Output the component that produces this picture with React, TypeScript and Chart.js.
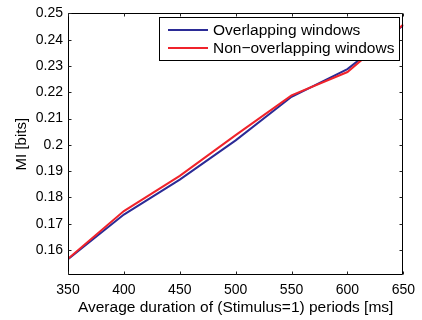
import React, { useEffect, useRef } from 'react';
import { Chart, registerables } from 'chart.js';

Chart.register(...registerables);

const X_VALUES = [350, 400, 450, 500, 550, 600, 650];
const OVERLAPPING = [0.1565, 0.1735, 0.1868, 0.2017, 0.2183, 0.2288, 0.2455];
const NON_OVERLAPPING = [0.1567, 0.1748, 0.1882, 0.2037, 0.2188, 0.2277, 0.2458];
const SERIES_NAMES = ['Overlapping windows', 'Non\u2212overlapping windows'];
const SERIES_COLORS = ['#2b2b96', '#f0232b'];
const X_TICKS = [350, 400, 450, 500, 550, 600, 650];
const Y_TICKS = [0.16, 0.17, 0.18, 0.19, 0.2, 0.21, 0.22, 0.23, 0.24, 0.25];
const Y_TICK_LABELS = ['0.16', '0.17', '0.18', '0.19', '0.2', '0.21', '0.22', '0.23', '0.24', '0.25'];
const X_TITLE = 'Average duration of (Stimulus=1) periods [ms]';
const Y_TITLE = 'MI [bits]';

const FONT = '"Liberation Sans", Arial, Helvetica, sans-serif';

const boxPlugin = {
  id: 'matlabBox',
  afterDatasetsDraw(chart: any) {
    const { ctx, chartArea: a, scales } = chart;
    const L = Math.round(a.left) + 0.5;
    const R = Math.round(a.right) - 0.5;
    const T = Math.round(a.top) + 0.5;
    const B = Math.round(a.bottom) - 0.5;
    ctx.save();
    ctx.strokeStyle = '#000';
    ctx.lineWidth = 1;
    ctx.beginPath();
    ctx.rect(L, T, R - L, B - T);
    ctx.stroke();
    const tl = 3;
    ctx.strokeStyle = '#222';
    ctx.beginPath();
    for (const t of scales.x.ticks) {
      const px = Math.round(scales.x.getPixelForValue(t.value)) + 0.5;
      ctx.moveTo(px, B);
      ctx.lineTo(px, B - tl);
      ctx.moveTo(px, T);
      ctx.lineTo(px, T + tl);
    }
    for (const t of scales.y.ticks) {
      const py = Math.round(scales.y.getPixelForValue(t.value)) + 0.5;
      ctx.moveTo(L, py);
      ctx.lineTo(L + tl, py);
      ctx.moveTo(R, py);
      ctx.lineTo(R - tl, py);
    }
    ctx.stroke();

    // legend
    const lx = 159.5, ly = 17.5, lw = 240, lh = 43;
    ctx.fillStyle = '#fff';
    ctx.fillRect(lx, ly, lw, lh);
    ctx.strokeStyle = '#000';
    ctx.strokeRect(lx, ly, lw, lh);
    ctx.font = '15.5px ' + FONT;
    ctx.textBaseline = 'middle';
    ctx.textAlign = 'left';
    const rows = [30, 48];
    SERIES_NAMES.forEach((name, i) => {
      ctx.strokeStyle = SERIES_COLORS[i];
      ctx.lineWidth = 2;
      ctx.beginPath();
      ctx.moveTo(168, rows[i]);
      ctx.lineTo(208, rows[i]);
      ctx.stroke();
      ctx.fillStyle = '#000';
      ctx.fillText(name, 213, rows[i] + 0.5);
    });
    ctx.restore();
  },
};

export default function App() {
  const ref = useRef<HTMLCanvasElement | null>(null);
  useEffect(() => {
    if (!ref.current) return;
    const chart = new Chart(ref.current, {
      type: 'line',
      data: {
        datasets: [
          {
            label: SERIES_NAMES[0],
            data: X_VALUES.map((x, i) => ({ x, y: OVERLAPPING[i] })),
            borderColor: SERIES_COLORS[0],
            borderWidth: 2,
            pointRadius: 0,
            tension: 0,
            fill: false,
            order: 1,
          },
          {
            label: SERIES_NAMES[1],
            data: X_VALUES.map((x, i) => ({ x, y: NON_OVERLAPPING[i] })),
            borderColor: SERIES_COLORS[1],
            borderWidth: 2,
            pointRadius: 0,
            tension: 0,
            fill: false,
            order: 0,
          },
        ],
      },
      options: {
        responsive: false,
        animation: false,
        devicePixelRatio: 1,
        layout: { padding: { left: 0, right: 15, top: 11, bottom: 0 } },
        plugins: { legend: { display: false }, tooltip: { enabled: false } },
        scales: {
          x: {
            type: 'linear',
            min: 350,
            max: 650,
            afterBuildTicks: (s: any) => {
              s.ticks = X_TICKS.map((v) => ({ value: v }));
            },
            afterFit: (s: any) => {
              s.height = 45;
            },
            grid: { display: false, drawTicks: false },
            border: { display: false },
            ticks: {
              padding: 7,
              color: '#000',
              font: { family: FONT, size: 14 },
              maxRotation: 0,
              callback: (v: any) => String(v),
            },
            title: {
              display: true,
              text: X_TITLE,
              color: '#000',
              font: { family: FONT, size: 15.5 },
              padding: { top: 0, bottom: 3 },
            },
          },
          y: {
            type: 'linear',
            min: 0.1505,
            max: 0.25,
            afterBuildTicks: (s: any) => {
              s.ticks = Y_TICKS.map((v) => ({ value: v }));
            },
            afterFit: (s: any) => {
              s.width = 68;
            },
            grid: { display: false, drawTicks: false },
            border: { display: false },
            ticks: {
              padding: 5,
              color: '#000',
              font: { family: FONT, size: 14 },
              callback: (v: any, i: number) => Y_TICK_LABELS[i],
            },
            title: {
              display: true,
              text: Y_TITLE,
              color: '#000',
              font: { family: FONT, size: 15 },
              padding: { top: 13, bottom: 0 },
            },
          },
        },
      },
      plugins: [boxPlugin],
    });
    return () => chart.destroy();
  }, []);
  return (
    <div style={{ position: 'absolute', left: 0, top: 0, width: 422, height: 320, background: '#fff' }}>
      <canvas ref={ref} width={422} height={320} style={{ width: 422, height: 320 }} />
    </div>
  );
}
